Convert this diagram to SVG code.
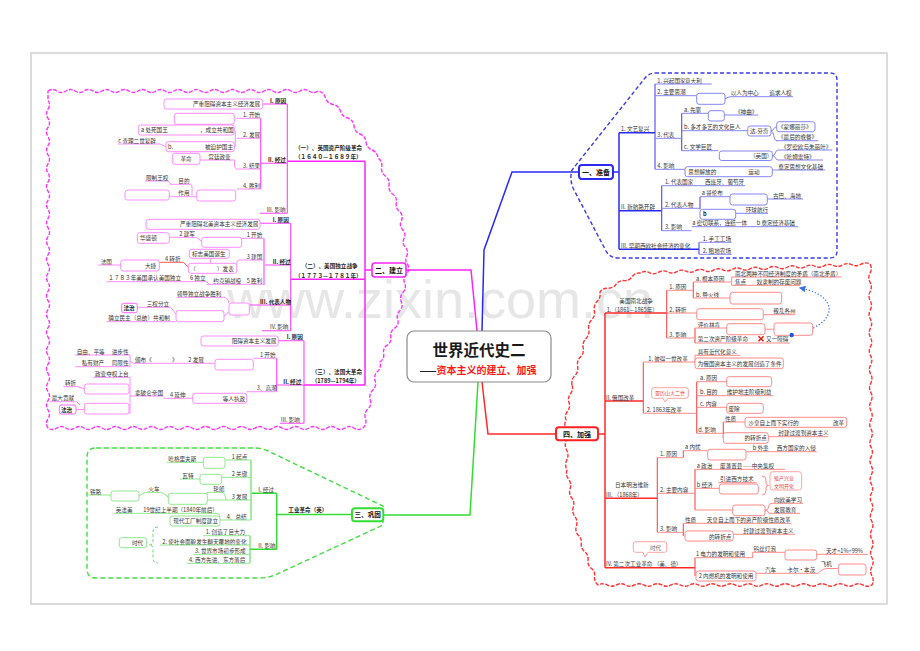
<svg xmlns="http://www.w3.org/2000/svg" width="920" height="651" viewBox="0 0 920 651">
<style>
text{font-family:"Noto Sans CJK SC","Noto Sans",sans-serif;font-size:5.6px;fill:#333}
.tb{font-weight:bold;fill:#222}
.nd{font-size:7px;font-weight:bold;fill:#111}
.rt{fill:#e83a3a;font-size:5px}
.bk{fill:none;stroke:#2a2af0;stroke-width:1.5}
.bs{fill:none;stroke:#4a4af0;stroke-width:1.1}
.bu{fill:none;stroke:#8585f2;stroke-width:1}
.bx{fill:#fff;stroke:#8585f2;stroke-width:1}
.mk{fill:none;stroke:#ff22ff;stroke-width:1.5}
.ms{fill:none;stroke:#ff44ff;stroke-width:1.1}
.mu{fill:none;stroke:#ff8cff;stroke-width:1}
.mx{fill:#fff;stroke:#ff8cff;stroke-width:1}
.gk{fill:none;stroke:#33dd33;stroke-width:1.5}
.gs{fill:none;stroke:#55dd55;stroke-width:1.1}
.gu{fill:none;stroke:#8fe88f;stroke-width:1}
.gx{fill:#fff;stroke:#8fe88f;stroke-width:1}
.rk{fill:none;stroke:#ff2a2a;stroke-width:1.5}
.rs{fill:none;stroke:#ff4a4a;stroke-width:1.1}
.ru{fill:none;stroke:#ff8a8a;stroke-width:1}
.rx{fill:#fff;stroke:#ff8a8a;stroke-width:1}
</style>
<defs>
<marker id="ab" viewBox="0 0 6 6" refX="5" refY="3" markerWidth="5" markerHeight="5" orient="auto"><path d="M0,0 L6,3 L0,6 z" fill="#3a6ee8"/></marker>
</defs>
<rect x="0" y="0" width="920" height="651" fill="#fff"/>
<rect x="31" y="53" width="856" height="551" fill="#fff" stroke="#d0d0d0" stroke-width="1.5"/>
<text x="227" y="318" style="font-family:'Liberation Sans',sans-serif;font-size:54px;fill:#e6e6e6">www.zixin.com.cn</text>

<g id="containers">
<path d="M655,73 L830,73 Q837,73 837,80 L837,251 Q837,258 830,258 L618,258 Q610,258 606,251 L574,190 Q569,180 572,170 L645,78 Q649,73 655,73 Z" fill="none" stroke="#3a3ae8" stroke-width="1.4" stroke-dasharray="4 2.5"/>
<path d="M48,91 q4.5,-3 9,0 t9,0 t9,0 t9,0 t9,0 t9,0 t9,0 t9,0 t9,0 t9,0 t9,0 t9,0 t9,0 t9,0 t9,0 t9,0 t9,0 t9,0 t9,0 t9,0 t9,0 t9,0 t9,0 t9,0 t9,0 t9,0 t9,0 t9,0 t9,0 t9,0 q5.75,1.15 7.5,6.75 t7.5,6.75 t7.5,6.75 t7.5,6.75 q5.4,2.2 6,8 t6,8 t6,8 t6,8 t6,8 q4.61,3.37 3.667,9 t3.667,9 t3.667,9 t3.667,9 t3.667,9 t3.667,9 q3.64,3.97 1.333,8.833 t1.333,8.833 t1.333,8.833 t1.333,8.833 t1.333,8.833 t1.333,8.833 q2.12,5.12 -1.667,9.167 t-1.667,9.167 t-1.667,9.167 t-1.667,9.167 t-1.667,9.167 t-1.667,9.167 q0.96,5.38 -3.6,8.4 t-3.6,8.4 t-3.6,8.4 t-3.6,8.4 t-3.6,8.4 q1.7,5.46 -2.429,9.429 t-2.429,9.429 t-2.429,9.429 t-2.429,9.429 t-2.429,9.429 t-2.429,9.429 t-2.429,9.429 q-4.5,3 -9,0 t-9,0 t-9,0 t-9,0 t-9,0 t-9,0 t-9,0 t-9,0 t-9,0 t-9,0 t-9,0 t-9,0 t-9,0 t-9,0 t-9,0 t-9,0 t-9,0 t-9,0 t-9,0 t-9,0 t-9,0 t-9,0 t-9,0 t-9,0 t-9,0 t-9,0 t-9,0 t-9,0 t-9,0 t-9,0 t-9,0 t-9,0 t-9,0 t-9,0 t-9,0 q-3,-4.554 0,-9.108 t0,-9.108 t0,-9.108 t0,-9.108 t0,-9.108 t0,-9.108 t0,-9.108 t0,-9.108 t0,-9.108 t0,-9.108 t0,-9.108 t0,-9.108 t0,-9.108 t0,-9.108 t0,-9.108 t0,-9.108 t0,-9.108 t0,-9.108 t0,-9.108 t0,-9.108 t0,-9.108 t0,-9.108 t0,-9.108 t0,-9.108 t0,-9.108 t0,-9.108 t0,-9.108 t0,-9.108 t0,-9.108 t0,-9.108 t0,-9.108 t0,-9.108 t0,-9.108 t0,-9.108 t0,-9.108 t0,-9.108 Z" fill="none" stroke="#ff33ff" stroke-width="1.4" stroke-dasharray="4 1.5"/>
<path d="M96,448 L255,448 Q262,448 268,451 L383,506 L383,525 L275,575 Q268,578 260,578 L96,578 Q87,578 87,569 L87,457 Q87,448 96,448 Z" fill="none" stroke="#44dd44" stroke-width="1.4" stroke-dasharray="5 3"/>
<path d="M572,385 q-1,-5.37 2.8,-9.3 t2.8,-9.3 t2.8,-9.3 t2.8,-9.3 t2.8,-9.3 t2.8,-9.3 t2.8,-9.3 t2.8,-9.3 t2.8,-9.3 t2.8,-9.3 q2.93,-4.16 8,-3.8 t8,-3.8 t8,-3.8 t8,-3.8 t8,-3.8 q4.6,-2.68 9.2,-0.36 t9.2,-0.36 t9.2,-0.36 t9.2,-0.36 t9.2,-0.36 t9.2,-0.36 t9.2,-0.36 t9.2,-0.36 t9.2,-0.36 t9.2,-0.36 t9.2,-0.36 t9.2,-0.36 t9.2,-0.36 t9.2,-0.36 t9.2,-0.36 t9.2,-0.36 t9.2,-0.36 t9.2,-0.36 t9.2,-0.36 t9.2,-0.36 t9.2,-0.36 t9.2,-0.36 t9.2,-0.36 t9.2,-0.36 t9.2,-0.36 q2.53,4.59 0.057,9.171 t0.057,9.171 t0.057,9.171 t0.057,9.171 t0.057,9.171 t0.057,9.171 t0.057,9.171 t0.057,9.171 t0.057,9.171 t0.057,9.171 t0.057,9.171 t0.057,9.171 t0.057,9.171 t0.057,9.171 t0.057,9.171 t0.057,9.171 t0.057,9.171 t0.057,9.171 t0.057,9.171 t0.057,9.171 t0.057,9.171 t0.057,9.171 t0.057,9.171 t0.057,9.171 t0.057,9.171 t0.057,9.171 t0.057,9.171 t0.057,9.171 t0.057,9.171 t0.057,9.171 t0.057,9.171 t0.057,9.171 t0.057,9.171 t0.057,9.171 t0.057,9.171 q-4.57,2.5 -9.133,0 t-9.133,0 t-9.133,0 t-9.133,0 t-9.133,0 t-9.133,0 t-9.133,0 t-9.133,0 t-9.133,0 t-9.133,0 t-9.133,0 t-9.133,0 t-9.133,0 t-9.133,0 t-9.133,0 t-9.133,0 t-9.133,0 t-9.133,0 t-9.133,0 t-9.133,0 t-9.133,0 t-9.133,0 t-9.133,0 t-9.133,0 t-9.133,0 t-9.133,0 t-9.133,0 t-9.133,0 t-9.133,0 t-9.133,0 q-3.99,-3.24 -3.333,-8.333 t-3.333,-8.333 t-3.333,-8.333 t-3.333,-8.333 t-3.333,-8.333 t-3.333,-8.333 q-3.29,-4.24 -1.571,-9.286 t-1.571,-9.286 t-1.571,-9.286 t-1.571,-9.286 t-1.571,-9.286 t-1.571,-9.286 t-1.571,-9.286 q-2.6,-5 -0.2,-10 t-0.2,-10 t-0.2,-10 t-0.2,-10 t-0.2,-10 q-1.75,-4.38 1.5,-8.75 t1.5,-8.75 t1.5,-8.75 t1.5,-8.75 Z" fill="none" stroke="#ff3333" stroke-width="1.4" stroke-dasharray="4 1.5"/>
</g>

<g id="connectors">
<path class="bk" d="M482,331 L484,250 L512,172 L579,172 M613,172 H619 M619,132.7 V249.3 M619,132.7 H655 M619,210.7 H661.7 M619,249.3 H699"/>
<path class="bs" d="M655,84 V169.3 M661.7,185.7 V230.7 M699,242.3 V254.3 M681.7,113.3 V150.7 M700,196.7 V209.3"/>
<path class="mk" d="M477,331 L471,270 L406,270 M372,270 H365 M365,161.3 V385 M287.3,161.3 H365 M290.7,279.3 H365 M304,385 H365"/>
<path class="ms" d="M287.3,104 V213.3 M260.7,118.3 V189 M290.7,223.3 V330.7 M264,238.3 V285 M304,340.7 V423.3 M276.7,358.3 V391.7 M263.3,104 H287.3 M260.7,163.3 H287.3 M260,213.3 H287.3 M260,223.3 H290.7 M265,265 H290.7 M249.3,305 H290.7 M262,330.7 H290.7 M278.3,340.7 H304 M276.7,385 H304 M280,423.3 H304"/>
<path class="gk" d="M478,382 L470,515 L383.3,515 M352,514.5 H276.7 M276.7,493.3 V549.3 M276.7,493.3 H251.7 M276.7,549.3 H250"/>
<path class="gs" d="M251,460 V520 M250,535.7 V563.3"/>
<path class="rk" d="M482,382 L488,434 L556,434 M598,434 H605 M605,313 V567.7 M605,313 H666.7 M605,401 H643.3 M605,498.3 H657.3 M605,567.7 H695"/>
<path class="rs" d="M666.7,290.3 V338 M643.3,362 V413.3 M696.7,381.7 V433.3 M657.3,457.7 V532.3 M695,557.7 V576 M693.3,282 V298 M695,328 V343 M723.3,422 V438 M683.3,450.7 V457.7 M695,469.3 V510 M683.3,523.3 V536"/>
<path d="M792,335 C838,326 842,296 800,288" fill="none" stroke="#3a6ee8" stroke-width="1.3" stroke-dasharray="1.2 2" marker-end="url(#ab)"/>
</g>

<g id="n-zhunbei"><rect x="579" y="165" width="34" height="14" rx="3" fill="#fff" stroke="#2a2af0" stroke-width="2"/><text class="nd" x="596" y="174.7" text-anchor="middle">一、准备</text></g>
<g id="b1"><text x="621" y="131.3">1. 文艺复兴</text></g>
<g id="b11"><text x="657.3" y="82.7">1. 兴起国家</text><text x="685" y="82.7">意大利</text><path class="bu" d="M655,84 H711.7"/></g>
<g id="b12"><text x="657.3" y="94.4">2. 主要思潮</text><path class="bu" d="M655,95.7 H696.7 M725,98.8 Q728,96.7 731,96.7 H793"/><rect class="bx" x="696.7" y="93.3" width="28.3" height="11" rx="2.5"/><text x="730.7" y="95.4">以人为中心</text><text x="769.3" y="95.4">追求人权</text></g>
<g id="b13"><text x="657.3" y="137">3. 代表</text><path class="bu" d="M655,138.3 H681.7"/></g>
<g id="b131"><text x="684" y="112">a. 先驱</text><path class="bu" d="M681.7,113.3 H708.3 M724.3,115 H758.3"/><rect class="bx" x="708.3" y="110.7" width="16" height="10.3" rx="2.5"/><text x="735" y="113.7">《神曲》</text></g>
<g id="b132"><text x="684" y="129.4">b. 多才多艺的文化巨人</text><path class="bu" d="M681.7,130.7 H747.7 M776,140.7 H818.3 M771,131 C774,131 773.5,126.7 776.7,126.7 M771,131 C774,131 773.5,140.7 776.7,140.7"/><rect class="bx" x="747.7" y="126" width="23.3" height="10" rx="2.5"/><text x="750" y="133">达.芬奇</text><rect class="bx" x="776.7" y="121.7" width="38.3" height="10" rx="2.5"/><text x="778" y="128.7">《蒙娜丽莎》</text><text x="778" y="139.4">《最后的晚餐》</text></g>
<g id="b133"><text x="684" y="149.4">c. 文学巨匠</text><path class="bu" d="M681.7,150.7 H718.3 M778,150 H832 M778,160 H823 M772.3,155.7 C776,155.7 775,150 778,150 M772.3,155.7 C776,155.7 775,160 778,160"/><rect class="bx" x="719.3" y="151" width="53" height="9.5" rx="2.5"/><text x="750" y="158.3">（英国）</text><text x="781" y="148.7">《罗密欧与朱丽叶》</text><text x="781" y="158.7">《哈姆雷特》</text></g>
<g id="b14"><text x="657.3" y="168">4. 影响</text><path class="bu" d="M655,169.3 H685 M772.3,170 H825"/><rect class="bx" x="685" y="166.7" width="87.3" height="10" rx="2.5"/><text x="688.3" y="174">思想解放的</text><text x="748.3" y="174">运动</text><text x="778.3" y="168.7">奠定思想文化基础</text></g>
<g id="b2"><text x="621" y="209.4">II. 新航路开辟</text></g>
<g id="b21"><text x="665" y="184.4">1. 代表国家</text><text x="705" y="184.4">西班牙、葡萄牙</text><path class="bu" d="M661.7,185.7 H745"/></g>
<g id="b22"><text x="665" y="207">2. 代表人物</text><path class="bu" d="M661.7,208.3 H700"/></g>
<g id="b221"><text x="701.7" y="195.4">a 哥伦布</text><path class="bu" d="M700,196.7 H730 M767.3,199 H803"/><rect class="bx" x="730" y="194" width="37.3" height="11" rx="2.5"/><text x="773" y="197.7">古巴、海地</text></g>
<g id="b222"><rect class="bx" x="700" y="209.3" width="35.7" height="10" rx="2.5"/><text class="tb" x="703" y="216.3">b</text><text x="745.7" y="212">环球航行</text><path class="bu" d="M735.7,213.3 H768"/></g>
<g id="b23"><text x="665" y="229.4">3. 影响</text><path class="bu" d="M661.7,230.7 H691.7 M691.7,226.7 H798.3"/><text x="692.3" y="225.4">a 密切联系，连结一体</text><text x="756.7" y="225.4">b 奠定经济基础</text></g>
<g id="b3"><text x="621" y="248">III. 早期西欧社会经济的变化</text></g>
<g id="b31"><text x="702.7" y="241">1. 手工工场</text><path class="bu" d="M699,242.3 H731.7"/></g>
<g id="b32"><text x="702.7" y="253">2. 租地农场</text><path class="bu" d="M699,254.3 H731.7"/></g>

<g id="n-jianli"><rect x="372" y="263" width="34" height="14" rx="3" fill="#fff" stroke="#ff22ff" stroke-width="1.6"/><text class="nd" x="389" y="272.6" text-anchor="middle">二、建立</text></g>
<g id="m1"><text class="tb" x="295" y="149.5">（一）、英国资产阶级革命</text><text class="tb" x="295" y="158.5">（１６４０—１６８９年）</text></g>
<g id="m11"><text class="tb" x="270" y="102.7">I. 原因</text><rect class="mx" x="164" y="99" width="98.7" height="10" rx="2.5"/><text x="193" y="106">严重阻碍资本主义经济发展</text></g>
<g id="m12"><text class="tb" x="268" y="162">II. 经过</text></g>
<g id="m121"><text x="243" y="117">1. 开始</text><path class="mu" d="M236.7,118.3 H260.7"/><rect class="mx" x="174.3" y="113.3" width="60" height="11" rx="2.5"/></g>
<g id="m122"><text x="243" y="137">2. 发展</text><path class="mu" d="M236.7,138.3 H260.7 M235.3,131 V146.7 M118,144 H160 L166,146.7"/><rect class="mx" x="138.3" y="125" width="96" height="10" rx="2.5"/><text x="141" y="132">a 处死国王</text><text x="200" y="132">，成立共和国</text><rect class="mx" x="166" y="141.7" width="68.3" height="10" rx="2.5"/><text x="168" y="148.6">b.</text><text x="205" y="148.6">被迫护国主</text><text x="118.3" y="142.7">c 查理二世复辟</text></g>
<g id="m123"><text x="243" y="167.7">3. 结果</text><path class="mu" d="M236.7,169 H260.7 M236.7,169 Q234.5,169 234.5,164 V160 M200,160 H234.5"/><text x="208.3" y="158.7">宫廷政变</text><rect class="mx" x="172.3" y="153.3" width="27.7" height="11" rx="2.5"/><text x="180.5" y="161">革命</text></g>
<g id="m124"><text x="243" y="187.7">4. 胜利</text><path class="mu" d="M236.7,189 H260.7 M170,184.3 H190.5 Q192,184.3 192,187 V195.5 M169.3,196.7 H196.7 M145,181 H168 L171,184.3"/><rect class="mx" x="196.7" y="190" width="39" height="11" rx="2.5"/><text x="178.3" y="183">目的</text><text x="178.3" y="195.4">作用</text><text x="146" y="179.7">限制王权</text><rect class="mx" x="125" y="190" width="44.3" height="10" rx="2.5"/></g>
<g id="m13"><text x="266.7" y="212">III. 影响</text></g>
<g id="m2"><text class="tb" x="301.7" y="267.5">（二）、美国独立战争</text><text class="tb" x="295" y="277.8">（１７７３—１７８１年）</text></g>
<g id="m21"><text class="tb" x="272.7" y="222">I. 原因</text><rect class="mx" x="146" y="219.3" width="114" height="10" rx="2.5"/><text x="180" y="226.3">严重阻碍北美资本主义经济发展</text></g>
<g id="m22"><text class="tb" x="272.7" y="263.7">II. 经过</text></g>
<g id="m221"><text x="246.7" y="237">1 开始</text><path class="mu" d="M241.7,238.3 H264 M170,237.3 H196.7 L201.7,241.5"/><rect class="mx" x="201.7" y="237.3" width="40" height="10" rx="2.5"/><text x="179.3" y="236">2 建军</text><rect class="mx" x="137.3" y="232.7" width="32" height="10.6" rx="2.5"/><text x="140" y="240.4">华盛顿</text></g>
<g id="m222"><text x="246.7" y="258.7">3 建国</text><path class="mu" d="M239.3,260 H264 M239.3,260 Q236.7,260 236.7,264 M210,258.3 L211,263.3"/><rect class="mx" x="188.3" y="263.3" width="48.4" height="10" rx="2.5"/><text x="190" y="270.5">（</text><text x="217" y="270.5">）发表</text><rect class="mx" x="189.3" y="249.3" width="40" height="9" rx="2.5"/><text x="192" y="256">标志美国诞生</text></g>
<g id="m223"><text x="165" y="261">4 转折</text><path d="M158.3,262.3 H183.3 L188.3,267" fill="none" stroke="#ff5a5a" stroke-width="1"/><rect class="mx" x="120.7" y="260" width="38.6" height="11" rx="2.5"/><text x="145" y="267.8">大捷</text><text x="100.7" y="263.7">法国</text><path class="mu" d="M98.3,265 H120.7"/></g>
<g id="m224"><text x="246.7" y="283">5 胜利</text><text x="213.3" y="283">约克镇战役</text><path class="mu" d="M206.7,284.3 H264 M106.7,281.7 H206.7 L209,284.3"/><text x="190" y="280.4">6 独立</text><text x="108.3" y="280.4">１７８３年美国承认美国独立</text></g>
<g id="m23"><text class="tb" x="260" y="303.5">III. 代表人物</text><rect class="mx" x="229" y="303" width="20.3" height="12" rx="2.5"/><path class="mu" d="M176.7,297.3 H223.3 Q228,297.3 229,303 M224,316 L229,312 M138.3,307.3 H170.7 L176,314 M106.7,321.7 H176"/><text x="176.7" y="296">领导独立战争胜利</text><rect class="mx" x="176" y="310.7" width="48" height="11" rx="2.5"/><text x="146.7" y="306">三权分立</text><rect x="121.7" y="303.3" width="15.6" height="9.4" rx="2" fill="#fff" stroke="#ff66ff" stroke-width="1"/><text class="tb" x="123.5" y="310.3">法治</text><text x="108.3" y="320.4">确立民主（总统）共和制</text></g>
<g id="m24"><text x="270" y="329.4">IV. 影响</text></g>
<g id="m3"><text class="tb" x="311.7" y="374">（三）、法国大革命</text><text class="tb" x="311.7" y="383">（1789—1794年）</text></g>
<g id="m31"><text class="tb" x="286.7" y="339.4">I. 原因</text><rect class="mx" x="201" y="336" width="77.3" height="10" rx="2.5"/><text x="231.7" y="343">阻碍资本主义发展</text></g>
<g id="m32"><text class="tb" x="283.3" y="383.7">II. 经过</text></g>
<g id="m321"><text x="260" y="357">1 开始</text><path class="mu" d="M253.3,358.3 H276.7 M133.3,363.3 H215 M75,355 H130 M75,366.7 H130 M130,355 V366.7 M130,361 L133.3,363.3"/><rect class="mx" x="215" y="359.3" width="38.3" height="10.7" rx="2.5"/><text x="188.3" y="362">2 发展</text><text x="135" y="362">颁布《</text><text x="172" y="362">》</text><text x="76.7" y="353.7">自由、平等</text><text x="111.7" y="353.7">进步性</text><text x="81.7" y="365.4">私有财产</text><text x="111.7" y="365.4">局限性</text></g>
<g id="m322"><text x="256.7" y="390.4">3、高潮</text><path class="mu" d="M246.7,391.7 H276.7 M163.3,398.3 H192.7 M130,396 H163.3 M130,377.3 V414 M93.3,377.3 H130 M63.3,386.7 H78 L84.3,389 M50,401.7 H76.7 L80,405 M76,409.5 H84.3"/><rect class="mx" x="192.7" y="393.3" width="54" height="10" rx="2.5"/><text x="222.7" y="400.5">等人执政</text><text x="170" y="397">4 延伸</text><text x="135" y="394.7">拿破仑帝国</text><text x="95" y="376">政变夺权上台</text><rect class="mx" x="84.3" y="384" width="44.7" height="10" rx="2.5"/><rect class="mx" x="84.3" y="403.3" width="44.7" height="10.7" rx="2.5"/><text x="65" y="385.4">转折</text><text x="51.7" y="400.4">最大贡献</text><rect x="59.3" y="405" width="16.7" height="9" rx="2" fill="#fff" stroke="#ff66ff" stroke-width="1"/><text class="tb" x="61" y="412">法治</text></g>
<g id="m33"><text x="281" y="422">III. 影响</text></g>

<g id="n-gonggu"><rect x="352" y="508.3" width="31.3" height="13" rx="3" fill="#fff" stroke="#33dd33" stroke-width="2"/><text class="nd" x="367.7" y="517.4" text-anchor="middle" style="font-size:6.6px">三、巩固</text></g>
<g id="g1"><text class="tb" x="288.3" y="512">工业革命（英）</text></g>
<g id="g11"><text x="258.3" y="492">I. 经过</text></g>
<g id="g111"><text x="231.7" y="458.7">1 起点</text><path class="gu" d="M225,460 H251 M166.7,462.3 H203.3"/><rect class="gx" x="203.3" y="457.3" width="21.7" height="11" rx="2.5"/><text x="168.3" y="461">哈格里夫斯</text></g>
<g id="g112"><text x="231.7" y="476">2 关键</text><path class="gu" d="M221.7,477.3 H251 M180,479 H200"/><rect class="gx" x="200" y="474.3" width="21.7" height="10" rx="2.5"/><text x="182.3" y="477.7">瓦特</text></g>
<g id="g113"><text x="231.7" y="498.7">3 发展</text><path class="gu" d="M207.3,500 H251 M206.7,492.3 H222 Q225,492.3 226,500 M139,496 L145,492.3 H161.7 L168.3,497 M88.3,495 H111"/><text x="213.3" y="491">轮船</text><rect class="gx" x="168.3" y="493.3" width="39" height="11" rx="2.5"/><text x="148.3" y="491">火车</text><rect class="gx" x="111" y="491" width="28" height="10" rx="2.5"/><text x="90" y="493.7">铁路</text></g>
<g id="g114"><text x="226.7" y="518.7">4、总结</text><path class="gu" d="M220,520 H251 M114.3,513.3 H216 Q220,513.3 220,517"/><text x="115.7" y="512">英法美</text><text x="143.3" y="512">19世纪上半期（1840年前后）</text><rect class="gx" x="170" y="516" width="50" height="10" rx="2.5"/><text x="173.3" y="523">现代工厂制度建立</text></g>
<g id="g12"><text x="258.3" y="548">II. 影响</text></g>
<g id="g121"><text x="205.7" y="534.4">1. 创造了巨大力</text><path class="gu" d="M203.3,535.7 H250"/></g>
<g id="g122"><text x="162.3" y="543.7">2. 使社会面貌发生翻天覆地的变化</text><path class="gu" d="M160,545 H250"/></g>
<g id="g123"><text x="195" y="553">3. 世界市场初步形成</text><path class="gu" d="M193.3,554.3 H250"/></g>
<g id="g124"><text x="189" y="562">4. 西方先进、东方落后</text><path class="gu" d="M186.7,563.3 H250"/></g>
<g id="g13"><rect class="gx" x="119.3" y="537.7" width="27.4" height="10" rx="2.5"/><text x="132" y="545">时代</text><path d="M158,527 Q153,527 153,532 L153,541 Q153,545 149,545 Q153,545 153,549 L153,558 Q153,563 158,563" fill="none" stroke="#66dd66" stroke-width="1" stroke-dasharray="3 2"/></g>

<g id="n-jiaqiang"><rect x="556" y="427.3" width="42" height="13" rx="3" fill="#fff" stroke="#ff2020" stroke-width="2"/><text class="nd" x="577" y="436.6" text-anchor="middle">四、加强</text></g>
<g id="r1"><text x="619.3" y="303">美国南北战争</text><text x="606.7" y="311.7">1.（1861—1865年）</text></g>
<g id="r11"><text x="669.3" y="289">1. 原因</text><path class="ru" d="M666.7,290.3 H693.3"/></g>
<g id="r111"><text x="696" y="280.7">a. 根本原因</text><path class="ru" d="M693.3,282 H731.7 M731.7,277 V285.3 M731.7,277 H841.7 M731.7,285.3 H800"/><text x="735" y="275.7">南北两种不同经济制度的矛盾（南北矛盾）</text><text x="735" y="284">焦点</text><text x="756.7" y="284">奴隶制的存废问题</text></g>
<g id="r112"><text x="696" y="296.7">b. 导火线</text><path class="ru" d="M693.3,298 H730"/><rect class="rx" x="730" y="292.3" width="51.7" height="11.7" rx="2.5"/></g>
<g id="r12"><text x="669.3" y="311.7">2. 转折</text><path class="ru" d="M666.7,313 H696.7 M763.3,314.7 H795"/><rect class="rx" x="696.7" y="308.7" width="66.6" height="11" rx="2.5"/><text x="773.3" y="313.4">叛乱各州</text></g>
<g id="r13"><text x="669.3" y="336.7">3. 影响</text><path class="ru" d="M666.7,338 H695"/></g>
<g id="r131"><text x="697.7" y="326.7">评价林肯</text><path class="ru" d="M695,328 H726.7 M765,329.2 H774"/><rect class="rx" x="726.7" y="323.7" width="38.3" height="11" rx="2.5"/><rect class="rx" x="774" y="323" width="38.7" height="12.3" rx="2.5"/><circle cx="791.7" cy="335" r="2.2" fill="#2255dd"/></g>
<g id="r132"><text x="697.7" y="341.3">第二次资产阶级革命</text><path d="M758.5,336.3 L763.5,341.3 M763.5,336.3 L758.5,341.3" stroke="#e02020" stroke-width="1.6"/><text x="766" y="341.3">又一障碍</text><path class="ru" d="M695,343 H790"/></g>
<g id="r2"><text x="606" y="399.7">II. 俄国改革</text></g>
<g id="r21"><text x="648.3" y="360.7">1. 彼得一世改革</text><path class="ru" d="M643.3,362 H695 M695,355.3 V363 M695,355.3 H740"/><text x="697.7" y="354">具有近代化意义</text><rect class="rx" x="695" y="358" width="88.3" height="10.7" rx="2.5"/><text x="697.7" y="366">为俄国资本主义的发展创造了条件</text></g>
<g id="r22"><text x="646.7" y="412">2. 1863年改革</text><path class="ru" d="M643.3,413.3 H696.7"/><path d="M654,387.7 H686 Q688.3,387.7 688.3,390 V396 Q688.3,398.3 686,398.3 H668 L665,402 L663,398.3 H654 Q651.7,398.3 651.7,396 V390 Q651.7,387.7 654,387.7 Z" fill="#fff" stroke="#ff9a9a" stroke-width="0.9"/><text class="rt" x="655" y="395.3">亚历山大二世</text></g>
<g id="r221"><text x="700" y="380.4">a. 原因</text><path class="ru" d="M696.7,381.7 H726.7"/><rect class="rx" x="726.7" y="376.7" width="45" height="10" rx="2.5"/></g>
<g id="r222"><text x="700" y="394.4">b. 目的</text><text x="726.7" y="394.4">维护地主阶级利益</text><path class="ru" d="M696.7,395.7 H773.3"/></g>
<g id="r223"><text x="700" y="406">c. 内容</text><path class="ru" d="M696.7,407.3 H726.7"/><rect class="rx" x="726.7" y="403.3" width="36.6" height="10" rx="2.5"/><text x="728.5" y="410.5">废除</text></g>
<g id="r224"><text x="698.3" y="432">d. 影响</text><path class="ru" d="M696.7,433.3 H723.3 M723.3,422 H745 M768.3,436.7 H828.3"/><text x="725" y="420.7">性质</text><rect class="rx" x="745" y="417.3" width="101.7" height="10" rx="2.5"/><text x="748.3" y="424.6">沙皇自上而下实行的</text><text x="833" y="424.6">改革</text><rect class="rx" x="723.3" y="432.7" width="45" height="10.6" rx="2.5"/><text x="744.5" y="440.3">的转折点</text><text x="778.3" y="435.4">封建过渡到资本主义</text></g>
<g id="r3"><text x="615" y="486.5">日本明治维新</text><text x="606" y="496.7">III.  （1868年）</text></g>
<g id="r31"><text x="660" y="456.4">1. 原因</text><path class="ru" d="M657.3,457.7 H683.3 M683.3,450.7 H707.7 M746,451.7 H816.7"/><text x="685" y="449.4">a 内忧</text><rect class="rx" x="707.7" y="449.3" width="38.3" height="10.7" rx="2.5"/><text x="752.7" y="450.4">b 外患</text><text x="776.7" y="450.4">西方国家的入侵</text></g>
<g id="r32"><text x="660" y="492">2. 主要内容</text><path class="ru" d="M657.3,493.3 H695 M695,469.3 H785 M695,488.3 H719.3 M718.3,482.7 H756.7 M695,510 H732.7 M771.7,503.3 H803 M771.7,513.3 H800"/><text x="696.7" y="468">a 政治</text><text x="720" y="468">废藩置县——中央集权</text><text x="696.7" y="487">b 经济</text><text x="720" y="481.4">引进西方技术</text><rect class="rx" x="719.3" y="484" width="39" height="10" rx="2.5"/><path class="ru" d="M762,476 Q766,476 766,480 V483 Q766,485.5 768.5,485.5 Q766,485.5 766,488 V491 Q766,495 762,495"/><rect x="770" y="471.7" width="31.7" height="18.3" rx="3" fill="#fff" stroke="#ff9a9a" stroke-width="0.9"/><text class="rt" x="774" y="479.5">殖产兴业</text><text class="rt" x="774" y="487.5">文明开化</text><rect class="rx" x="732.7" y="505" width="32.3" height="10.7" rx="2.5"/><path class="ru" d="M772,503.3 Q768.5,503.3 768.5,507 Q768.5,510.3 765,510.3 Q768.5,510.3 768.5,513 Q768.5,513.3 772,513.3"/><text x="774" y="502">向欧美学习</text><text x="774" y="512">发展教育</text></g>
<g id="r33"><text x="660" y="531">3. 影响</text><path class="ru" d="M657.3,532.3 H683.3 M683.3,523.3 H791.7 M733.3,534.3 H795"/><text x="685" y="522">性质</text><text x="706.7" y="522">天皇自上而下的资产阶级性质改革</text><rect class="rx" x="685" y="531" width="48.3" height="10" rx="2.5"/><text x="709" y="538.5">的转折点</text><text x="743.3" y="533">封建过渡到资本主义</text></g>
<g id="r4"><text x="606" y="566.3">IV. 第二次工业革命 （美、德）</text><path d="M635.5,541.7 H664.5 Q666.7,541.7 666.7,544 V550 Q666.7,552.3 664.5,552.3 H648 L645,557 L643,552.3 H635.5 Q633.3,552.3 633.3,550 V544 Q633.3,541.7 635.5,541.7 Z" fill="#fff" stroke="#ff9a9a" stroke-width="0.9"/><text x="650" y="549.5" style="fill:#666">时代</text></g>
<g id="r41"><text x="696" y="556.4">1 电力的发明和使用</text><path class="ru" d="M695,557.7 H752.7 V552.3 H785 M816.7,554.3 H868"/><text x="753.5" y="551">钨丝灯泡</text><rect class="rx" x="785" y="550" width="31.7" height="10" rx="2.5"/><text x="826" y="553">天才=1%+99%</text></g>
<g id="r42"><rect class="rx" x="696" y="571" width="60" height="10" rx="2.5"/><text x="698.7" y="578.3">2 内燃机的发明和使用</text><path class="ru" d="M756,573.3 H818.3 Q822,568.5 828,568.5 H838.3"/><text x="765" y="572">汽车</text><text x="787.3" y="572">卡尔·本茨</text><text x="820.7" y="566">飞机</text><rect class="rx" x="838.3" y="564" width="27.7" height="11" rx="2.5"/></g>

<g id="center"><rect x="407" y="331" width="144" height="51" rx="7" fill="#fff" stroke="#8a8a8a" stroke-width="1.2"/><text x="479" y="356" text-anchor="middle" style="font-size:15.5px;font-weight:bold;fill:#1a1a1a">世界近代史二</text><text x="478" y="373.5" text-anchor="middle" style="font-size:10px;font-weight:bold;fill:#ff1a1a"><tspan style="fill:#222">——</tspan>资本主义的建立、加强</text></g>
</svg>
